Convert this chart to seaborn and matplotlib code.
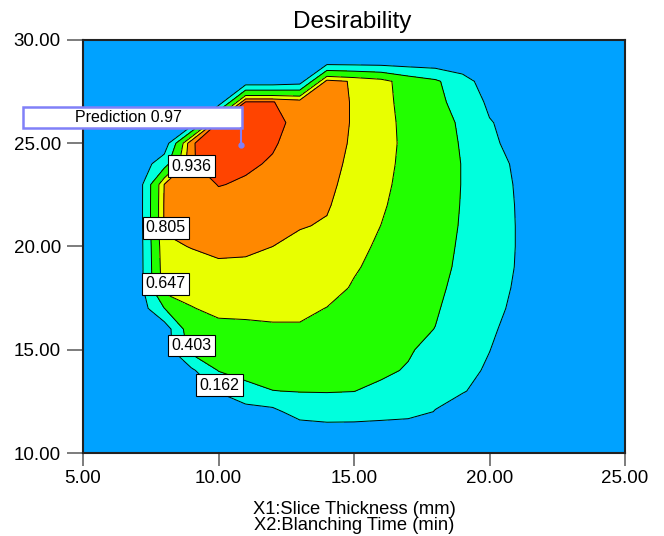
import matplotlib
matplotlib.use("Agg")
import matplotlib.pyplot as plt
import numpy as np
import seaborn as sns
from matplotlib.patches import Rectangle
from matplotlib.ticker import FormatStrFormatter

# grid of the response surface: X1 slice thickness (mm), X2 blanching time (min)
x_grid = list(range(5, 26))
y_grid = list(range(10, 31))

# desirability, one row per X2 value (10 at the top of the list, 30 at the end)
desirability = [
    [0] * 21,
    [0] * 21,
    [0, 0, 0, 0, 0, 0, 0.05, 0.10, 0.27, 0.33, 0.32, 0.28, 0.245, 0.155, 0.10, 0.06, 0, 0, 0, 0, 0],
    [0, 0, 0, 0, 0, 0.174, 0.353, 0.40, 0.41, 0.409, 0.405, 0.37, 0.31, 0.22, 0.17, 0.12, 0.05, 0, 0, 0, 0],
    [0, 0, 0, 0, 0.118, 0.413, 0.453, 0.475, 0.48, 0.467, 0.45, 0.431, 0.39, 0.28, 0.21, 0.14, 0.06, 0, 0, 0, 0],
    [0, 0, 0, 0.04, 0.48, 0.50, 0.53, 0.55, 0.55, 0.525, 0.49, 0.46, 0.42, 0.35, 0.26, 0.165, 0.08, 0, 0, 0, 0],
    [0, 0, 0, 0.03, 0.56, 0.61, 0.61, 0.62, 0.62, 0.583, 0.536, 0.49, 0.45, 0.40, 0.30, 0.19, 0.10, 0.02, 0, 0, 0],
    [0, 0, 0, 0.40, 0.64, 0.68, 0.69, 0.70, 0.70, 0.641, 0.58, 0.52, 0.47, 0.42, 0.33, 0.21, 0.13, 0.04, 0, 0, 0],
    [0, 0, 0, 0.74, 0.70, 0.72, 0.74, 0.745, 0.74, 0.73, 0.625, 0.55, 0.50, 0.44, 0.35, 0.225, 0.145, 0.05, 0, 0, 0],
    [0, 0, 0, 0.76, 0.76, 0.78, 0.78, 0.77, 0.755, 0.76, 0.67, 0.58, 0.52, 0.455, 0.37, 0.235, 0.155, 0.06, 0, 0, 0],
    [0, 0, 0, 0.78, 0.81, 0.84, 0.83, 0.805, 0.775, 0.775, 0.71, 0.61, 0.54, 0.465, 0.38, 0.24, 0.158, 0.06, 0, 0, 0],
    [0, 0, 0, 0.82, 0.85, 0.87, 0.86, 0.84, 0.812, 0.795, 0.73, 0.645, 0.555, 0.47, 0.39, 0.24, 0.158, 0.06, 0, 0, 0],
    [0, 0, 0, 0.82, 0.87, 0.90, 0.89, 0.87, 0.845, 0.815, 0.75, 0.671, 0.565, 0.475, 0.395, 0.235, 0.156, 0.06, 0, 0, 0],
    [0, 0, 0, 0.81, 0.88, 0.94, 0.925, 0.90, 0.87, 0.83, 0.765, 0.695, 0.575, 0.48, 0.398, 0.225, 0.152, 0.05, 0, 0, 0],
    [0, 0, 0, 0.30, 0.93, 0.97, 0.95, 0.927, 0.89, 0.84, 0.78, 0.72, 0.58, 0.48, 0.398, 0.21, 0.145, 0.05, 0, 0, 0],
    [0, 0, 0, 0.01, 0.93, 0.975, 0.98, 0.945, 0.90, 0.85, 0.79, 0.744, 0.58, 0.475, 0.39, 0.195, 0.11, 0.04, 0, 0, 0],
    [0, 0, 0, 0, 0, 0.95, 0.975, 0.97, 0.90, 0.855, 0.795, 0.736, 0.575, 0.465, 0.38, 0.175, 0.09, 0.03, 0, 0, 0],
    [0, 0, 0, 0, 0, 0, 0.94, 0.94, 0.88, 0.855, 0.795, 0.719, 0.565, 0.46, 0.32, 0.12, 0.06, 0, 0, 0, 0],
    [0, 0, 0, 0, 0, 0, 0, 0, 0.05, 0.85, 0.79, 0.718, 0.54, 0.44, 0.25, 0.05, 0, 0, 0, 0, 0],
    [0] * 21,
    [0] * 21,
]

contour_levels = [0.162, 0.403, 0.647, 0.805, 0.936]
band_colors = ["#00a2ff", "#00ffdd", "#22ff00", "#e8ff00", "#ff8800", "#ff4400"]

x_ticks = [5, 10, 15, 20, 25]
y_ticks = [10, 15, 20, 25, 30]

# flagged optimum
pred_x, pred_y, pred_value = 10.83, 24.92, 0.97


def main():
    sns.set_style("ticks")
    plt.rcParams["font.family"] = ["Liberation Sans", "DejaVu Sans"]
    plt.rcParams["text.color"] = "black"

    fig = plt.figure(figsize=(6.64, 5.36), dpi=100)
    ax = fig.add_axes([83 / 664, 83 / 536, 542 / 664, 413 / 536])

    X, Y = np.meshgrid(x_grid, y_grid)
    Z = np.array(desirability)
    ax.contourf(X, Y, Z, levels=[-0.01] + contour_levels + [1.0],
                colors=sns.color_palette(band_colors))
    ax.contour(X, Y, Z, levels=contour_levels, colors="black", linewidths=0.7)

    # boxed contour labels, placed where the original puts them
    spots = [(10.04, 13.29), (9.0, 15.22), (8.04, 18.19), (8.06, 20.9), (9.0, 23.89)]
    for lev, (lx, ly) in zip(contour_levels, spots):
        ax.text(lx, ly, f"{lev:.3f}", fontsize=11.5, ha="center", va="center",
                color="black",
                bbox=dict(boxstyle="square,pad=0.2", fc="white", ec="black", lw=0.8),
                zorder=5)

    # prediction flag
    box_col = "#8080f8"
    ax.add_patch(Rectangle((2.786, 25.74), 8.08, 1.015, fc="white", ec=box_col,
                           lw=1.8, clip_on=False, zorder=6))
    ax.text(6.66, 26.25, f"Prediction {pred_value:.2f}", fontsize=11.5, color="black",
            ha="center", va="center", zorder=7, clip_on=False)
    ax.plot([pred_x, pred_x], [pred_y, 25.74], color=box_col, lw=1.5, zorder=6)
    ax.plot([pred_x], [pred_y], marker="o", ms=3.5, color=box_col, zorder=6)

    ax.set_xlim(5, 25)
    ax.set_ylim(10, 30)
    ax.set_xticks(x_ticks)
    ax.set_yticks(y_ticks)
    ax.xaxis.set_major_formatter(FormatStrFormatter("%.2f"))
    ax.yaxis.set_major_formatter(FormatStrFormatter("%.2f"))
    ax.tick_params(axis="x", direction="out", length=9, width=1.2, color="#666666",
                   pad=3.5, labelsize=13.5, labelcolor="black")
    ax.tick_params(axis="y", direction="out", length=11.5, width=1.2, color="#666666",
                   pad=4.5, labelsize=13.5, labelcolor="black")
    for sp in ax.spines.values():
        sp.set_color("#222222")
        sp.set_linewidth(1.5)
        sp.set_visible(True)

    fig.text(352 / 664, 1 - 28 / 536, "Desirability", fontsize=17.5,
             ha="center", va="baseline", color="black")
    fig.text(354 / 664, 1 - 514 / 536, "X1:Slice Thickness (mm)", fontsize=13.2,
             ha="center", va="baseline", color="black")
    fig.text(354 / 664, 1 - 530 / 536, "X2:Blanching Time (min)", fontsize=13.2,
             ha="center", va="baseline", color="black")

    fig.savefig("out.png", dpi=100)
    plt.close(fig)


if __name__ == "__main__":
    main()
